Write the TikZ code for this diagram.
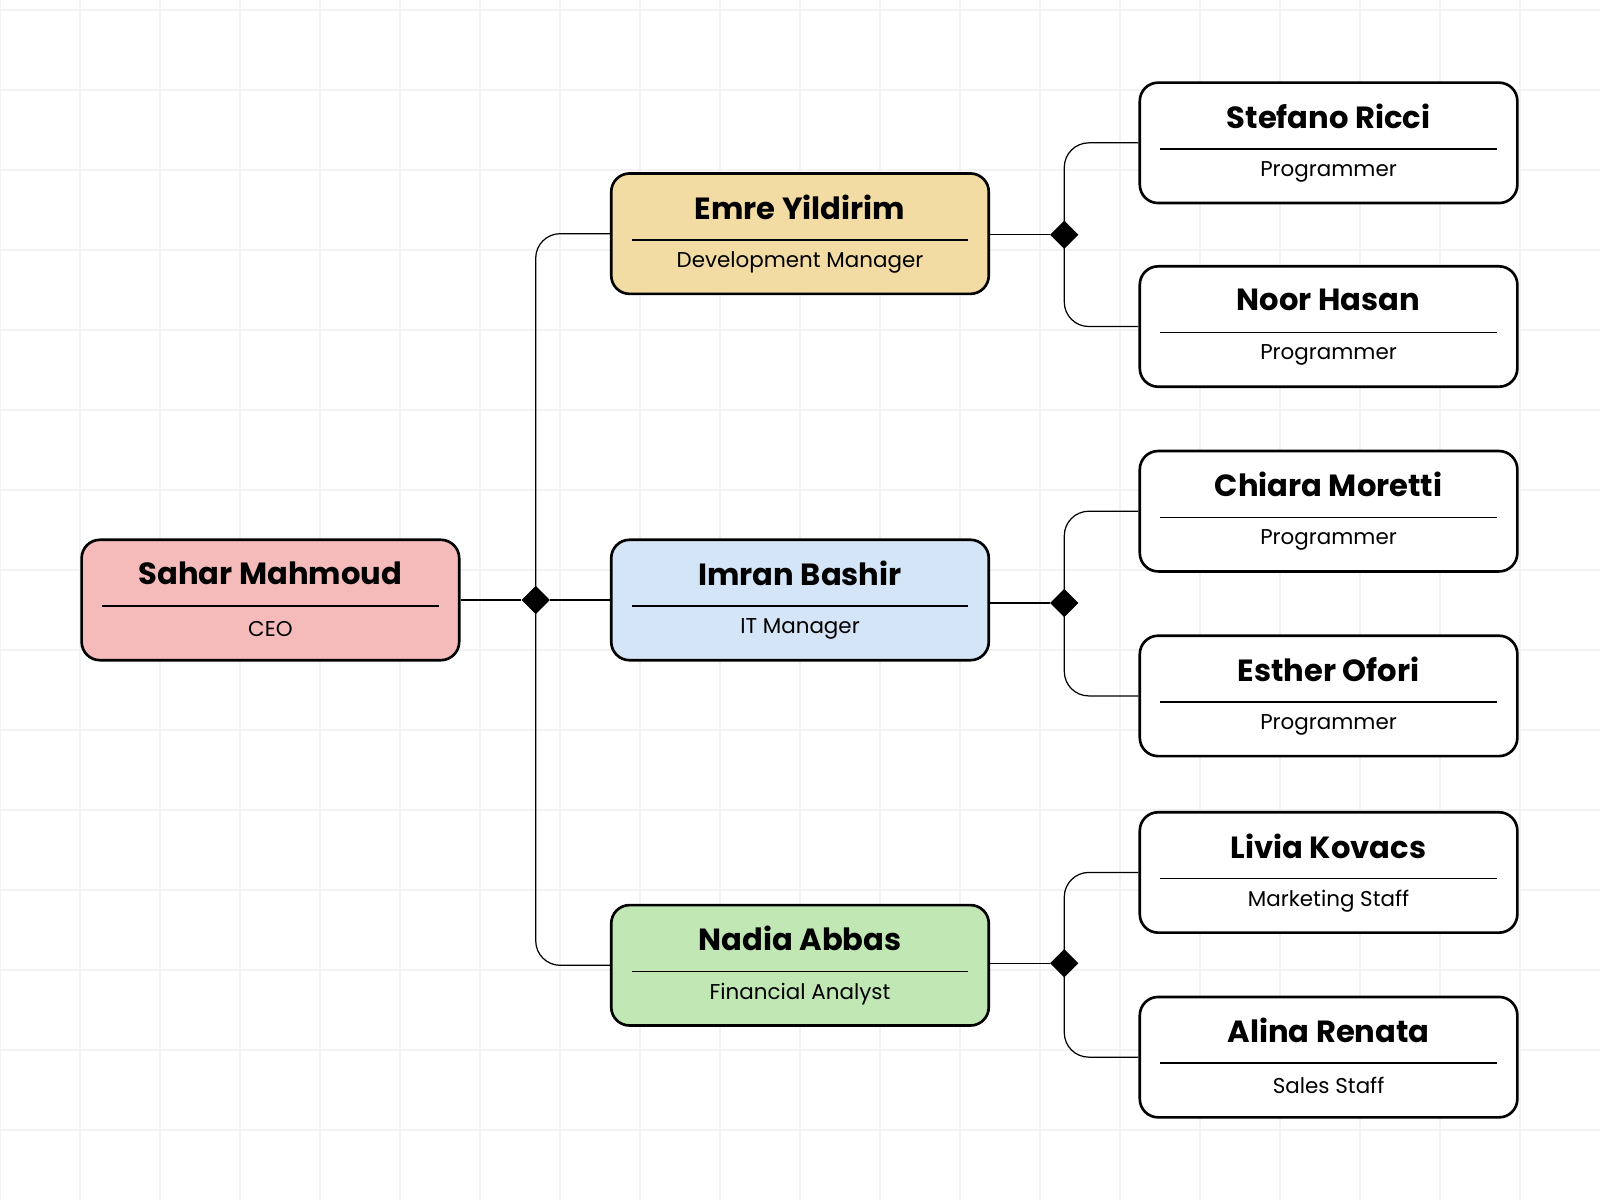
\documentclass[tikz,border=0pt]{standalone}
\usepackage{fontspec}
\setmainfont{Poppins}
\usetikzlibrary{shapes.geometric}
\begin{document}
\begin{tikzpicture}[x=0.5pt,y=-0.5pt,
  box/.style={draw=black,line width=1.3pt,rounded corners=9pt,minimum width=185pt,minimum height=59pt,inner sep=0pt},
  nm/.style={font=\fontsize{15}{18}\selectfont\bfseries},
  rl/.style={font=\fontsize{10.5}{13}\selectfont},
  dm/.style={diamond,fill=black,minimum size=14pt,inner sep=0pt},
  ln/.style={line width=0.6pt,rounded corners=12pt}]
\useasboundingbox (0,0) rectangle (1568,1176);
\fill[white] (0,0) rectangle (1568,1176);
\foreach \i in {0,...,19} \draw[black!5,line width=1pt] (78.4*\i,0) -- (78.4*\i,1176);
\foreach \i in {0,...,14} \draw[black!5,line width=1pt] (0,10+78.4*\i) -- (1568,10+78.4*\i);
\newcommand\person[6]{%
  \node[box,fill=#4] (#1) at (#2,#3) {};
  \draw[line width=0.8pt] (#2-165,#3+6) -- (#2+165,#3+6);
  \node[nm] (#1n) at (#2,#3-26) {#5};
  \node[rl] (#1r) at (#2,#3+28) {#6};}
\definecolor{cr}{HTML}{F5BBBB}
\definecolor{cy}{HTML}{F2DCA4}
\definecolor{cb}{HTML}{D3E5F6}
\definecolor{cg}{HTML}{C1E8B4}
\person{ceo}{265}{588}{cr}{Sahar Mahmoud}{CEO}
\person{emre}{784}{229}{cy}{Emre Yildirim}{Development Manager}
\person{imran}{784}{588}{cb}{Imran Bashir}{IT Manager}
\person{nadia}{784}{946}{cg}{Nadia Abbas}{Financial Analyst}
\person{stef}{1302}{140}{white}{Stefano Ricci}{Programmer}
\person{noor}{1302}{320}{white}{Noor Hasan}{Programmer}
\person{chia}{1302}{501}{white}{Chiara Moretti}{Programmer}
\person{esth}{1302}{682}{white}{Esther Ofori}{Programmer}
\person{livi}{1302}{855}{white}{Livia Kovacs}{Marketing Staff}
\person{alin}{1302}{1036}{white}{Alina Renata}{Sales Staff}
\node[dm] (d0) at (525,588) {};
\node[dm] (d1) at (1043,230) {};
\node[dm] (d2) at (1043,591) {};
\node[dm] (d3) at (1043,944) {};
\draw[ln] (ceo.east) -- (d0) -- (imran.west);
\draw[ln] (d0.center) |- (emre.west);
\draw[ln] (d0.center) |- (nadia.west);
\draw[ln] (emre.east |- d1) -- (d1);
\draw[ln] (imran.east |- d2) -- (d2);
\draw[ln] (nadia.east |- d3) -- (d3);
\draw[ln] (d1.center) |- (stef.west);
\draw[ln] (d1.center) |- (noor.west);
\draw[ln] (d2.center) |- (chia.west);
\draw[ln] (d2.center) |- (esth.west);
\draw[ln] (d3.center) |- (livi.west);
\draw[ln] (d3.center) |- (alin.west);
\end{tikzpicture}
\end{document}
